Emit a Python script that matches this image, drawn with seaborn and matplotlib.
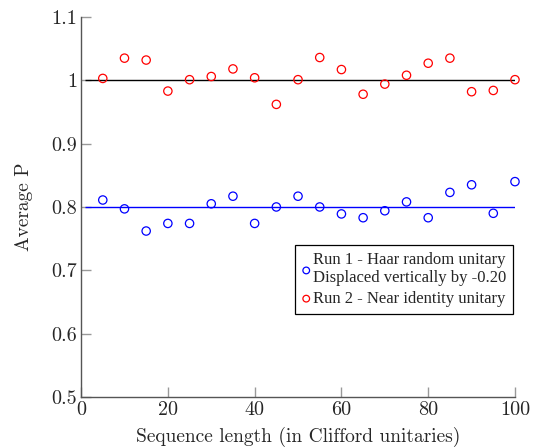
import numpy as np
import pandas as pd
import matplotlib
matplotlib.use("Agg")
import matplotlib.pyplot as plt
import seaborn as sns

seq_len = [5, 10, 15, 20, 25, 30, 35, 40, 45, 50, 55, 60, 65, 70, 75, 80, 85, 90, 95, 100]
run1 = [0.811, 0.797, 0.762, 0.774, 0.774, 0.805, 0.817, 0.774, 0.800, 0.817,
        0.800, 0.789, 0.783, 0.794, 0.808, 0.783, 0.823, 0.835, 0.790, 0.840]
run2 = [1.003, 1.035, 1.032, 0.983, 1.001, 1.006, 1.018, 1.004, 0.962, 1.001,
        1.036, 1.017, 0.978, 0.994, 1.008, 1.027, 1.035, 0.982, 0.984, 1.001]
fit1 = 0.80
fit2 = 1.00
label1 = "Run 1 - Haar random unitary\nDisplaced vertically by -0.20"
label2 = "Run 2 - Near identity unitary"
xticks = [0, 20, 40, 60, 80, 100]
yticks = [0.5, 0.6, 0.7, 0.8, 0.9, 1.0, 1.1]
ytick_labels = ["0.5", "0.6", "0.7", "0.8", "0.9", "1", "1.1"]

sns.set_style("white")
plt.rcParams["font.family"] = ["cmr10", "DejaVu Serif"]

fig = plt.figure(figsize=(5.37, 4.47), dpi=100)
ax = fig.add_axes([0.151, 0.112, 0.808, 0.850])

ax.hlines(fit2, 1, 100, color="black", lw=1.0, zorder=1)
ax.hlines(fit1, 1, 100, color="blue", lw=1.0, zorder=1)

df1 = pd.DataFrame({"x": seq_len, "y": run1})
df2 = pd.DataFrame({"x": seq_len, "y": run2})
sns.scatterplot(data=df1, x="x", y="y", ax=ax, marker="o", s=36,
                facecolors="none", edgecolors="blue", linewidths=0.9,
                label=label1, zorder=3, clip_on=False)
sns.scatterplot(data=df2, x="x", y="y", ax=ax, marker="o", s=36,
                facecolors="none", edgecolors="red", linewidths=0.9,
                label=label2, zorder=3, clip_on=False)

ax.set_xlim(0, 100)
ax.set_ylim(0.5, 1.1)
ax.set_xticks(xticks)
ax.set_xticklabels([str(t) for t in xticks])
ax.set_yticks(yticks)
ax.set_yticklabels(ytick_labels)
ax.tick_params(bottom=True, left=True, top=False, right=False,
               direction="in", length=7, width=1, color="#999999",
               labelsize=14.5, pad=3)
for s in ["top", "right"]:
    ax.spines[s].set_visible(False)
for s in ["left", "bottom"]:
    ax.spines[s].set_color("#555555")
    ax.spines[s].set_linewidth(1.0)

ax.set_xlabel("Sequence length (in Clifford unitaries)", fontsize=14, labelpad=6)
ax.set_ylabel("Average P", fontsize=14, labelpad=13)

leg = ax.legend(loc="upper right", bbox_to_anchor=(0.995, 0.40),
                frameon=True, fancybox=False, edgecolor="black", framealpha=1,
                prop={"family": "Liberation Serif", "size": 12},
                handletextpad=0.1, handlelength=0.6, borderpad=0.4,
                labelspacing=0.3, markerscale=0.8, borderaxespad=0)
leg.get_frame().set_linewidth(0.9)

fig.savefig("out.png", dpi=100)
